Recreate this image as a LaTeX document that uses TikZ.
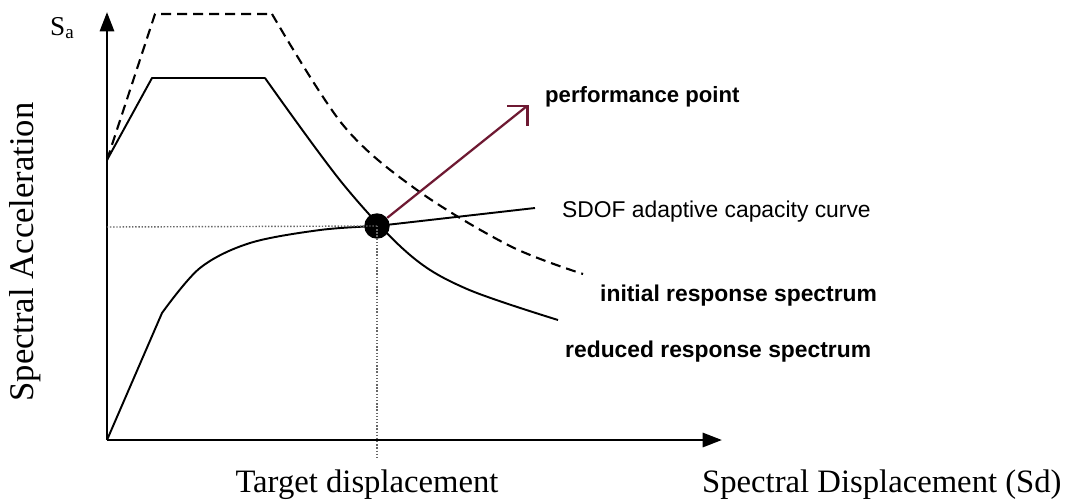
\documentclass[tikz,border=0pt]{standalone}
\usepackage{fontspec}
\setmainfont{Liberation Serif}
\newfontfamily\notefont{Liberation Sans}
\usetikzlibrary{arrows.meta,positioning}
\definecolor{arrowred}{RGB}{110,25,50}
\tikzset{axis/.style={line width=1.6pt,-{Triangle[length=11pt,width=8pt]}},
         curve/.style={line width=1.1pt,line join=round},
         guide/.style={densely dotted,line width=0.8pt,gray!80!black},
         note/.style={font=\notefont\fontsize{13}{15}\selectfont,anchor=base west},
         axlabel/.style={font=\fontsize{18.6}{22}\selectfont}}

\begin{document}
\begin{tikzpicture}[x=0.02cm,y=-0.02cm]
\useasboundingbox (0,0) rectangle (1074,501);

\coordinate (o) at (107,440);
\coordinate (ytop) at (107,12);
\coordinate (xend) at (722,440);
\draw[axis] (o) -- (ytop);
\draw[axis] (o) -- (xend);

% spectra
\draw[curve,line width=1.2pt,dash pattern=on 5.7pt off 3.4pt] (107,160) -- (155,14) -- (272,14)
  plot[smooth,tension=0.55] coordinates
  {(272,14) (343,125) (417,190) (510,246) (583,274)};
\draw[curve] (107,160) -- (152,78) -- (265,78)
  plot[smooth,tension=0.55] coordinates
  {(265,78) (343,184) (410,255) (467,289) (558,320)};

% capacity curve
\draw[curve] (o) -- (162,313) plot[smooth,tension=0.55] coordinates
  {(162,313) (200,268) (250,243) (320,230) (377,226)} -- (535,208);

\node[circle,fill=black,inner sep=0pt,minimum size=14.5pt] (pp) at (377,226) {};
\coordinate (tdx) at (377,457);
\coordinate (say) at (107,227);
\draw[guide] (pp.center) -- (say);
\draw[guide] (pp.center) -- (tdx);

% arrow to the performance point label, square open head
\coordinate (ptip) at (527,106);
\draw[arrowred,line width=1.3pt] (pp) -- (ptip);
\draw[arrowred,line width=1.7pt] ([xshift=-20*0.02cm]ptip) -- (ptip) -- ([yshift=-20*0.02cm]ptip);

% labels
\node[font=\fontsize{15.5}{18}\selectfont,anchor=base west] (sa) at (44,35) {S\textsubscript{a}};
\node[axlabel,font=\fontsize{19.7}{22}\selectfont,rotate=90] (sacc) at (25,252) {Spectral Acceleration};
\node[axlabel,anchor=base] (td) at (367,492) {Target displacement};
\node[axlabel,anchor=base west] (sd) at (696,492) {Spectral Displacement (Sd)};

\node[note,font=\notefont\bfseries\fontsize{12.6}{15}\selectfont] (perf) at (539,102) {performance point};
\node[note] (sdof) at (556,217) {SDOF adaptive capacity curve};
\node[note,font=\notefont\bfseries\fontsize{13}{15}\selectfont] (init) at (594,301) {initial response spectrum};
\node[note,font=\notefont\bfseries\fontsize{13}{15}\selectfont] (red) at (559,357) {reduced response spectrum};
\end{tikzpicture}
\end{document}
